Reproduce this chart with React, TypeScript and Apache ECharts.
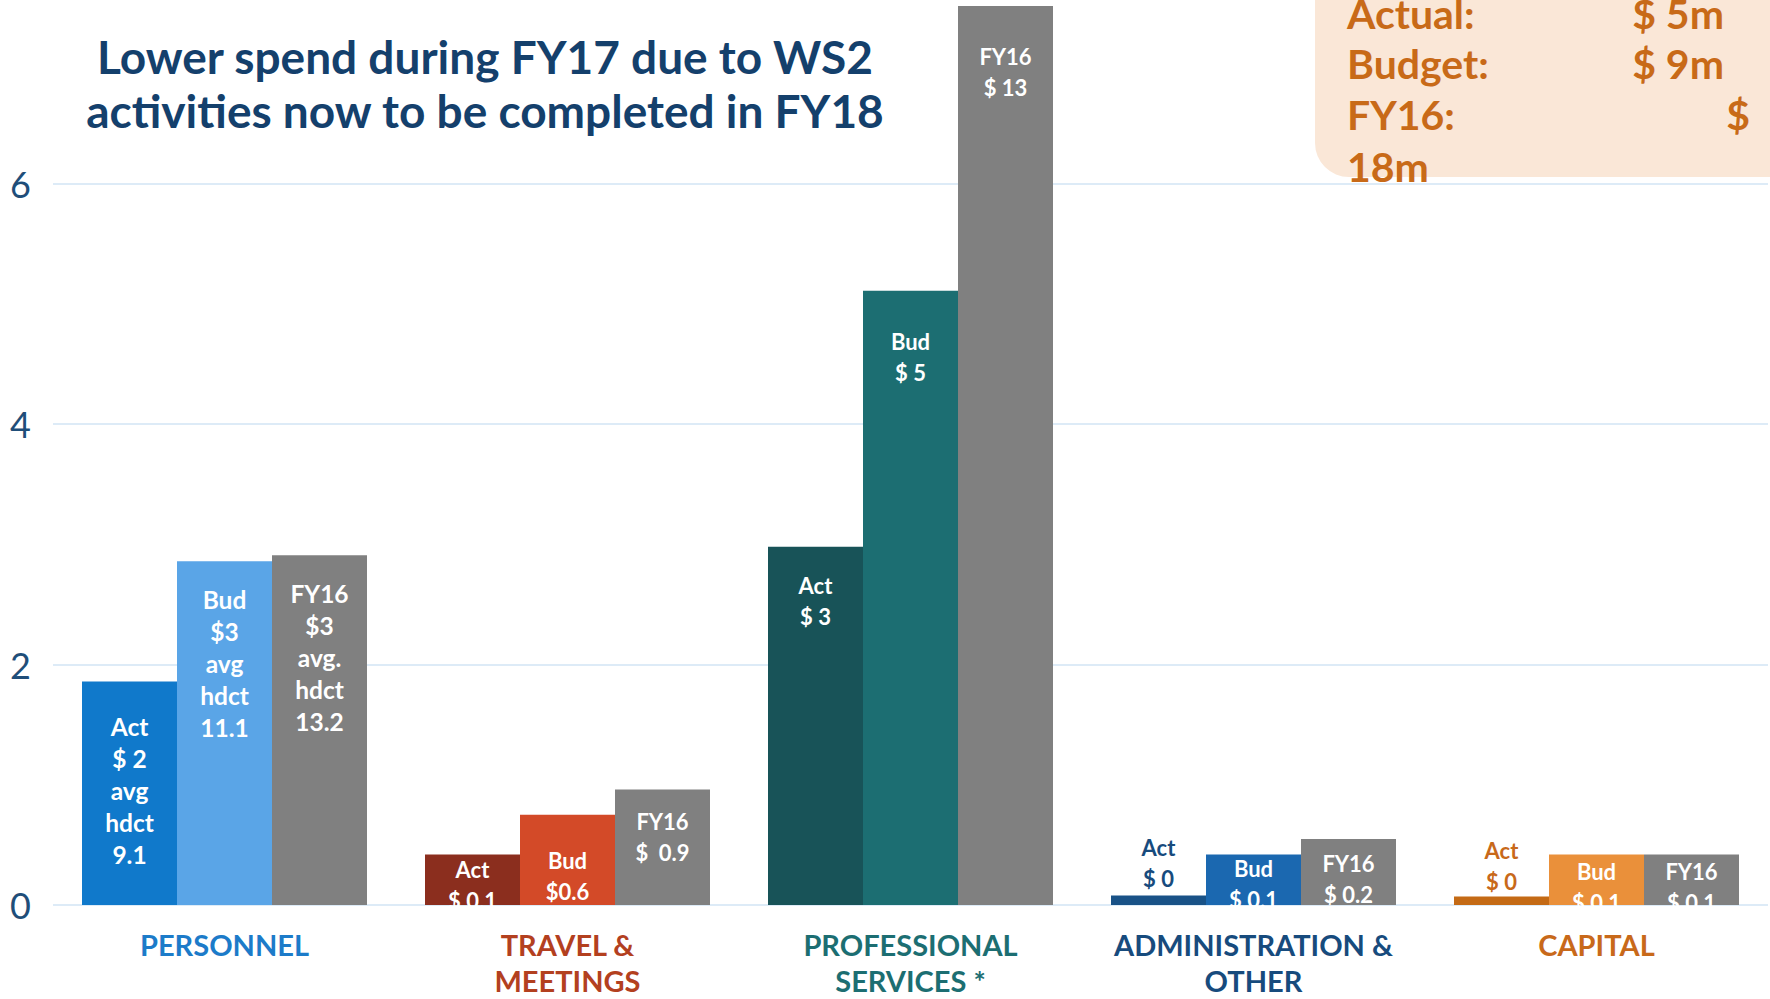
import React, { useEffect, useRef } from "react";
import * as echarts from "echarts";

// ---------- data ----------
const categories = [
  "PERSONNEL",
  "TRAVEL &\nMEETINGS",
  "PROFESSIONAL\nSERVICES *",
  "ADMINISTRATION &\nOTHER",
  "CAPITAL",
];
const actualValues = [1.86, 0.42, 2.98, 0.08, 0.07];
const budgetValues = [2.86, 0.75, 5.11, 0.42, 0.42];
const fy16Values = [2.91, 0.96, 7.48, 0.55, 0.42];

const actualLabels = ["Act\n$ 2\navg\nhdct\n9.1", "Act\n$ 0.1", "Act\n$ 3", "Act\n$ 0", "Act\n$ 0"];
const budgetLabels = ["Bud\n$3\navg\nhdct\n11.1", "Bud\n$0.6", "Bud\n$ 5", "Bud\n$ 0.1", "Bud\n$ 0.1"];
const fy16Labels = ["FY16\n$3\navg.\nhdct\n13.2", "FY16\n$  0.9", "FY16\n$ 13", "FY16\n$ 0.2", "FY16\n$ 0.1"];

const titleLines = ["Lower spend during FY17 due to WS2", "activities now to be completed in FY18"];
const totalNames = ["Actual:", "Budget:", "FY16:"];
const totalValues = ["$ 5m", "$ 9m", "$ 18m"];

const yMin = 0;
const yMax = 7.5;
const yInterval = 2;

// ---------- styles ----------
const FONT = "Lato";
const actualColors = ["#1079CB", "#8B2E1E", "#185358", "#195287", "#C46A15"];
const budgetColors = ["#5AA5E7", "#D34A28", "#1C6E72", "#1B68B0", "#EA903A"];
const fy16Color = "#808080";
const categoryColors = ["#1C7BC9", "#B3401F", "#1C6E72", "#174B7D", "#C8691A"];
const labelSizes = [24.5, 22, 22, 22, 22];
const labelLineHeights = [32, 31, 31, 31, 31];
const actualPad = [29, -1, 23, 1, 0];
const budgetPad = [22, 30, 35, -2, 1];
const fy16Pad = [22, 16, 35, 9, 1];

function barData(values: number[], labels: string[], colors: string[], pads: number[]) {
  return values.map((v, i) => {
    const outside = v < 0.2;
    return {
      value: v,
      itemStyle: { color: colors[i] },
      label: {
        show: true,
        formatter: labels[i],
        position: outside ? "top" : "insideTop",
        distance: pads[i],
        fontSize: labelSizes[i],
        lineHeight: labelLineHeights[i],
        color: outside ? categoryColors[i] : "#ffffff",
      },
    };
  });
}

export default function App() {
  const ref = useRef<HTMLDivElement>(null);
  useEffect(() => {
    if (!ref.current) return;
    const chart = echarts.init(ref.current, undefined, { renderer: "svg" });

    const labelBase = {
      fontFamily: FONT,
      fontWeight: "bold" as const,
      fontSize: 22,
      lineHeight: 31,
      align: "center" as const,
    };

    const rich: Record<string, any> = {};
    categoryColors.forEach((c, i) => {
      rich["c" + i] = { color: c, fontSize: 29, fontWeight: "bold", fontFamily: FONT, lineHeight: 36 };
    });

    const graphics: any[] = [];
    titleLines.forEach((t, i) => {
      graphics.push({
        type: "text",
        x: 485,
        y: 56 + i * 54,
        style: {
          text: t,
          fill: "#14406C",
          font: `bold 46px ${FONT}`,
          textAlign: "center",
          textVerticalAlign: "middle",
        },
        z: 20,
      });
    });
    graphics.push({
      type: "rect",
      shape: { x: 1315, y: -60, width: 520, height: 237, r: 34 },
      style: { fill: "#FAE7D7" },
      z: 10,
    });
    const boxFont = `bold 41px ${FONT}`;
    const boxColor = "#C86A18";
    const rowY = [13, 63, 114, 166];
    totalNames.forEach((n, i) => {
      graphics.push({
        type: "text",
        x: 1347,
        y: rowY[i],
        style: { text: n, fill: boxColor, font: boxFont, textAlign: "left", textVerticalAlign: "middle" },
        z: 11,
      });
      const parts = totalValues[i].split(" ");
      if (i < 2) {
        graphics.push({
          type: "text",
          x: 1724,
          y: rowY[i],
          style: { text: totalValues[i], fill: boxColor, font: boxFont, textAlign: "right", textVerticalAlign: "middle" },
          z: 11,
        });
      } else {
        graphics.push({
          type: "text",
          x: 1750,
          y: rowY[i],
          style: { text: parts[0], fill: boxColor, font: boxFont, textAlign: "right", textVerticalAlign: "middle" },
          z: 11,
        });
        graphics.push({
          type: "text",
          x: 1347,
          y: rowY[i + 1],
          style: { text: parts.slice(1).join(" "), fill: boxColor, font: boxFont, textAlign: "left", textVerticalAlign: "middle" },
          z: 11,
        });
      }
    });
    graphics.push({
      type: "rect",
      shape: { x: 50, y: 906.5, width: 1720, height: 18 },
      style: { fill: "#ffffff" },
      z: 100,
    });

    chart.setOption({
      animation: false,
      backgroundColor: "#ffffff",
      grid: { left: 53, right: 2, top: 3.5, bottom: 94, containLabel: false },
      xAxis: {
        type: "category",
        data: categories,
        axisLine: { show: false },
        axisTick: { show: false },
        axisLabel: {
          margin: 21,
          interval: 0,
          formatter: (value: string, idx: number) =>
            value
              .split("\n")
              .map((l) => `{c${idx}|${l}}`)
              .join("\n"),
          rich,
        },
      },
      yAxis: {
        type: "value",
        min: yMin,
        max: yMax,
        interval: yInterval,
        axisLine: { show: false },
        axisTick: { show: false },
        axisLabel: { fontFamily: FONT, fontSize: 36, color: "#1F4E79", margin: 22, showMaxLabel: false },
        splitLine: { showMaxLine: false, lineStyle: { color: "#DDEBF7", width: 2 } },
      },
      series: [
        {
          type: "bar",
          name: "Actual",
          barWidth: 95,
          barGap: "0%",
          data: barData(actualValues, actualLabels, actualColors, actualPad),
          label: labelBase,
        },
        {
          type: "bar",
          name: "Budget",
          barWidth: 95,
          barGap: "0%",
          data: barData(budgetValues, budgetLabels, budgetColors, budgetPad),
          label: labelBase,
        },
        {
          type: "bar",
          name: "FY16",
          barWidth: 95,
          barGap: "0%",
          data: barData(fy16Values, fy16Labels, fy16Values.map(() => fy16Color), fy16Pad),
          label: labelBase,
        },
      ],
      graphic: graphics,
    });
    return () => chart.dispose();
  }, []);
  return <div ref={ref} style={{ position: "absolute", left: 0, top: 0, width: 1770, height: 999 }} />;
}
